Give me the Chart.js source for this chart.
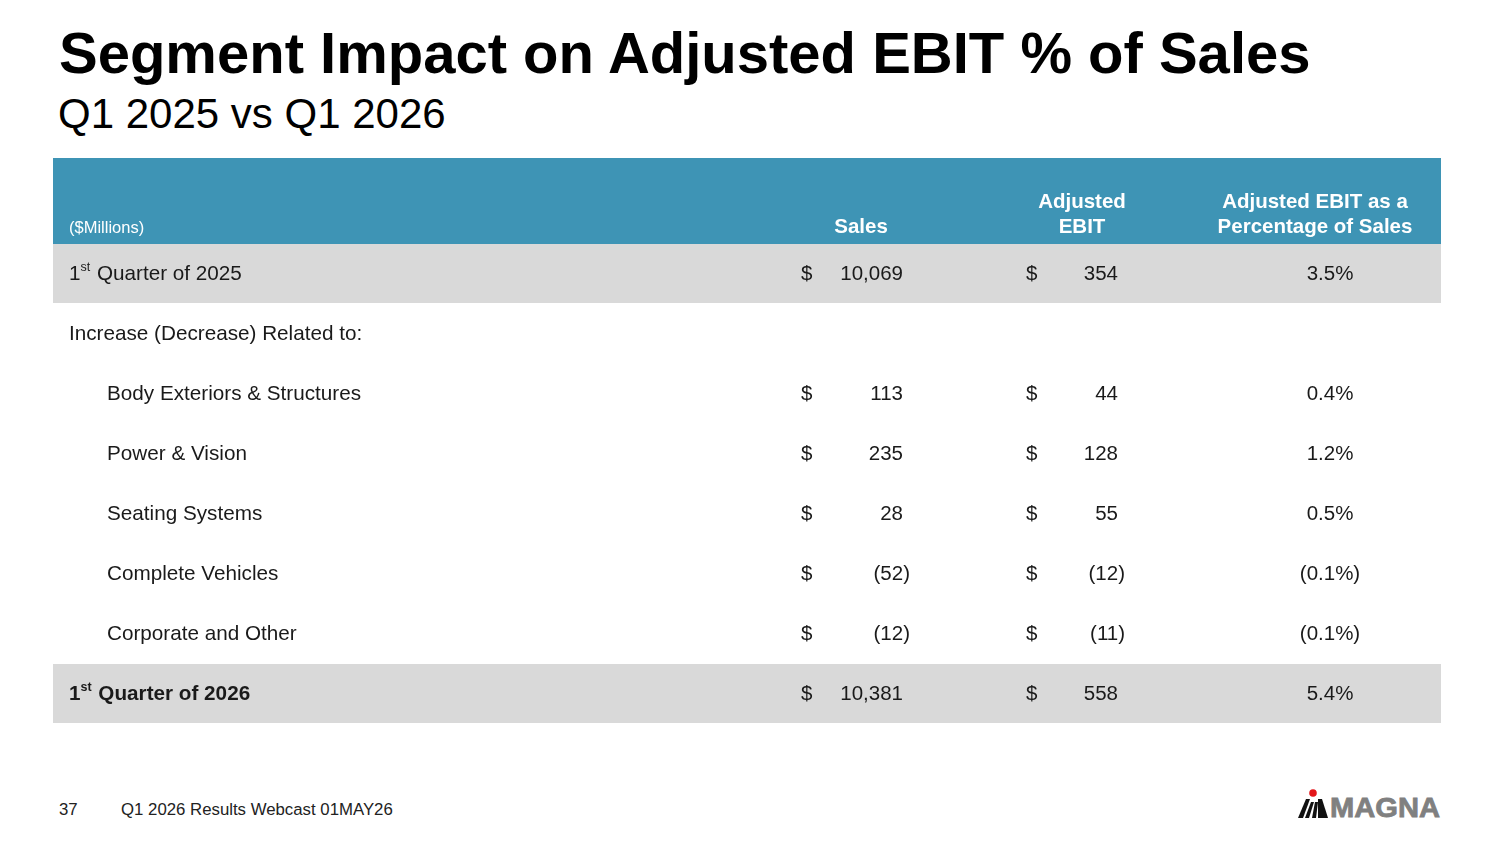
<!DOCTYPE html>
<html>
<head>
<meta charset="utf-8">
<script src="https://cdn.jsdelivr.net/npm/chart.js@4"></script>
<style>
  html, body { margin: 0; padding: 0; background: #fff; }
  body { width: 1500px; height: 844px; position: relative; overflow: hidden; font-family: "Liberation Sans", Arial, sans-serif; }
  .title { position: absolute; left: 59px; top: 21px; font-size: 58px; line-height: 64px; font-weight: bold; color: #000; white-space: nowrap; }
  .subtitle { position: absolute; left: 58px; top: 90px; font-size: 42px; line-height: 48px; color: #000; white-space: nowrap; }
  #table { position: absolute; left: 53px; top: 158px; }
  .footer { position: absolute; top: 800px; font-size: 16.8px; color: #222; white-space: nowrap; }
  #logo { position: absolute; left: 1296px; top: 788px; }
</style>
</head>
<body>
<div class="title">Segment Impact on Adjusted EBIT % of Sales</div>
<div class="subtitle">Q1 2025 vs Q1 2026</div>
<canvas id="table" width="1388" height="566"></canvas>
<div class="footer" style="left:59px">37</div>
<div class="footer" style="left:121px">Q1 2026 Results Webcast 01MAY26</div>
<svg id="logo" width="150" height="34" viewBox="0 0 150 34">
  <circle cx="17" cy="5" r="3.8" fill="#e3171b"/>
  <polygon points="2,30 10,11 14,11 7,30" fill="#111"/>
  <polygon points="9,30 15,14 18,14 13,30" fill="#111"/>
  <polygon points="16,30 19,14 22,14 20,30" fill="#111"/>
  <polygon points="22,30 22,11 26,11 32,30" fill="#111"/>
  <text x="34" y="29" font-family="Liberation Sans, Arial" font-weight="bold" font-size="28" fill="#808080" stroke="#808080" stroke-width="0.8" textLength="110" lengthAdjust="spacingAndGlyphs">MAGNA</text>
</svg>
<script>
const rowLabels = ['1st Quarter of 2025', 'Increase (Decrease) Related to:', 'Body Exteriors & Structures', 'Power & Vision', 'Seating Systems', 'Complete Vehicles', 'Corporate and Other', '1st Quarter of 2026'];
const salesValues = [10069, null, 113, 235, 28, -52, -12, 10381];
const ebitValues = [354, null, 44, 128, 55, -12, -11, 558];
const pctValues = [3.5, null, 0.4, 1.2, 0.5, -0.1, -0.1, 5.4];
const unitLabel = '($Millions)';
const columnHeaders = [['Sales'], ['Adjusted', 'EBIT'], ['Adjusted EBIT as a', 'Percentage of Sales']];
const shadedRows = [0, 7];
const indentedRows = [2, 3, 4, 5, 6];
const boldRows = [7];

const BODY_FONT = '"Liberation Sans", Arial, sans-serif';

function fmtMoney(v) {
  const s = Math.abs(v).toLocaleString('en-US');
  return v < 0 ? '(' + s + ')' : s;
}
function fmtPct(v) {
  const s = Math.abs(v).toFixed(1) + '%';
  return v < 0 ? '(' + s + ')' : s;
}

const tablePlugin = {
  id: 'tableCells',
  beforeDatasetsDraw(chart) {
    const { ctx, chartArea, scales: { y } } = chart;
    const rowH = y.getPixelForValue(1) - y.getPixelForValue(0);
    ctx.save();
    ctx.fillStyle = '#3e94b5';
    ctx.fillRect(0, 0, chart.width, chartArea.top);
    ctx.fillStyle = '#d9d9d9';
    shadedRows.forEach((i) => {
      const c = y.getPixelForValue(i);
      ctx.fillRect(0, c - rowH / 2, chart.width, rowH - 1);
    });
    ctx.restore();
  },
  afterDraw(chart) {
    const { ctx, scales: { y } } = chart;
    ctx.save();
    // header band text
    ctx.fillStyle = '#fff';
    ctx.textBaseline = 'alphabetic';
    ctx.font = '16.5px ' + BODY_FONT;
    ctx.textAlign = 'left';
    ctx.fillText(unitLabel, 16, 75);
    ctx.font = 'bold 20.5px ' + BODY_FONT;
    ctx.textAlign = 'center';
    const headX = [808, 1029, 1262];
    columnHeaders.forEach((lines, c) => {
      lines.forEach((t, k) => {
        const yy = 75 - (lines.length - 1 - k) * 25;
        ctx.fillText(t, headX[c], yy);
      });
    });

    // body rows
    ctx.fillStyle = '#1a1a1a';
    ctx.textBaseline = 'middle';
    rowLabels.forEach((label, i) => {
      const cy = y.getPixelForValue(i);
      const bold = boldRows.includes(i) ? 'bold ' : '';
      let x = indentedRows.includes(i) ? 54 : 16;
      ctx.textAlign = 'left';
      if (label.startsWith('1st')) {
        ctx.font = bold + '20.7px ' + BODY_FONT;
        ctx.fillText('1', x, cy);
        x += ctx.measureText('1').width;
        ctx.font = bold + '12.5px ' + BODY_FONT;
        ctx.fillText('st', x, cy - 6);
        x += ctx.measureText('st').width + 1;
        ctx.font = bold + '20.7px ' + BODY_FONT;
        ctx.fillText(label.slice(3), x, cy);
      } else {
        ctx.font = bold + '20.7px ' + BODY_FONT;
        ctx.fillText(label, x, cy);
      }

      ctx.font = '20.5px ' + BODY_FONT;
      const cells = [[salesValues[i], 748, 850], [ebitValues[i], 973, 1065]];
      cells.forEach(([v, dx, rx]) => {
        if (v === null) return;
        ctx.textAlign = 'left';
        ctx.fillText('$', dx, cy);
        ctx.textAlign = 'right';
        ctx.fillText(fmtMoney(v), v < 0 ? rx + 7 : rx, cy);
      });
      if (pctValues[i] !== null) {
        ctx.textAlign = 'center';
        ctx.fillText(fmtPct(pctValues[i]), 1277, cy);
      }
    });
    ctx.restore();
  }
};

new Chart(document.getElementById('table'), {
  type: 'bar',
  data: {
    labels: rowLabels,
    datasets: [{
      label: 'Adjusted EBIT % of Sales',
      data: pctValues,
      backgroundColor: 'rgba(0,0,0,0)',
      borderWidth: 0,
    }]
  },
  options: {
    indexAxis: 'y',
    responsive: false,
    animation: false,
    layout: { padding: { top: 86, left: 0, right: 0, bottom: 0 } },
    scales: {
      x: { display: false, min: -1, max: 6 },
      y: { display: false, offset: true },
    },
    plugins: {
      legend: { display: false },
      tooltip: { enabled: false },
    },
  },
  plugins: [tablePlugin],
});
</script>
</body>
</html>
